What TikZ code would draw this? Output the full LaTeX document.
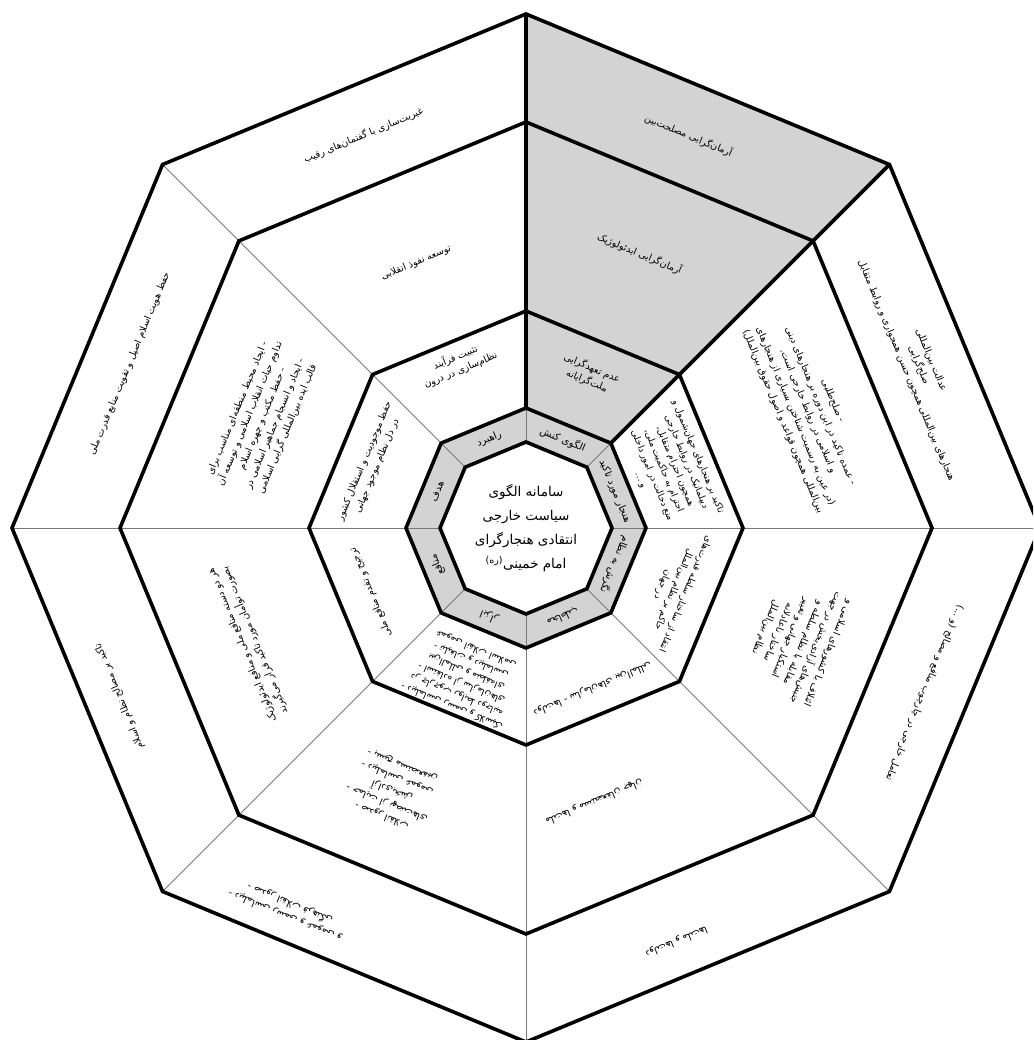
\documentclass[tikz,border=0pt]{standalone}
\usepackage{fontspec}
\newfontfamily\arabicfont[Script=Arabic]{DejaVu Sans}
\TeXXeTstate=1
\newcommand{\fa}[1]{\beginR #1\endR}
\definecolor{ringgray}{RGB}{211,211,211}
\definecolor{spokegray}{RGB}{120,120,120}

\begin{document}
\begin{tikzpicture}[x=1pt, y=1pt,
    ringline/.style={line width=3.6pt, line join=miter},
    spoke/.style={draw=spokegray, line width=0.9pt},
    celltext/.style={font=\arabicfont\fontsize{9.6}{13.5}\selectfont, align=center, inner sep=1pt},
    densetext/.style={celltext, font=\arabicfont\fontsize{9.2}{12.4}\selectfont},
    bandtext/.style={font=\arabicfont\fontsize{10}{12}\selectfont, inner sep=1pt},
    coretext/.style={font=\arabicfont\fontsize{13.5}{24}\selectfont, align=center}
  ]
  \useasboundingbox (-526,-512) rectangle (507,528);
  \clip (-526,-512) rectangle (507,528);

  % shaded band and highlighted sector
  \fill[ringgray, even odd rule]
    (0:120) \foreach \a in {45,90,...,315} {-- (\a:120)} -- cycle
    (0:86) \foreach \a in {45,90,...,315} {-- (\a:86)} -- cycle;
  \fill[ringgray] (45:86) -- (45:514) -- (90:514) -- (90:86) -- cycle;

  % spokes
  \foreach \a in {0,45,...,315}
    \draw[spoke] (\a:86) -- (\a:514);
  \draw[ringline] (90:120) -- (90:514) (45:120) -- (45:514);

  % rings
  \foreach \r in {514,406,217,120,86}
    \draw[ringline] (0:\r) \foreach \a in {45,90,...,315} {-- (\a:\r)} -- cycle;

  % core
  \node[coretext] (core) at (0,0)
    {\fa{سامانه الگوی}\\\fa{سیاست خارجی}\\\fa{انتقادی هنجارگرای}\\\fa{امام خمینی\textsuperscript{\fa{(ره)}}}};

  % band labels
  \node[bandtext, rotate=-67.5] (band22) at (22.5:96) {\fa{هنجار مورد تاکید}};
  \node[bandtext, rotate=-22.5] (band67) at (67.5:96) {\fa{الگوی کنش}};
  \node[bandtext, rotate=22.5] (band112) at (112.5:96) {\fa{راهبرد}};
  \node[bandtext, rotate=67.5] (band157) at (157.5:96) {\fa{هدف}};
  \node[bandtext, rotate=112.5] (band202) at (202.5:96) {\fa{منافع}};
  \node[bandtext, rotate=157.5] (band247) at (247.5:96) {\fa{ابزار}};
  \node[bandtext, rotate=202.5] (band292) at (292.5:96) {\fa{مخاطب}};
  \node[bandtext, rotate=247.5] (band337) at (337.5:96) {\fa{نگرش به نظام}};

  % inner ring
  \node[densetext, rotate=-67.5] (in22) at (22.5:155)
    {\fa{تاکید بر هنجارهای جهان‌شمول و}\\\fa{دیپلماتیک در روابط خارجی}\\\fa{همچون احترام متقابل،}\\\fa{احترام به حاکمیت ملی،}\\\fa{منع دخالت در امور داخلی}\\\fa{و ...}};
  \node[celltext, rotate=-22.5] (in67) at (67.5:166)
    {\fa{عدم تعهدگرایی}\\\fa{ملت‌گرایانه}};
  \node[celltext, rotate=22.5] (in112) at (112.5:178)
    {\fa{تثبیت فرآیند}\\\fa{نظام‌سازی در درون}};
  \node[celltext, rotate=67.5] (in157) at (157.5:168)
    {\fa{حفظ موجودیت و استقلال کشور}\\\fa{در دل نظام موجود جهانی}};
  \node[celltext, rotate=112.5] (in202) at (202.5:168)
    {\fa{ترجیح و تقدم منافع ملی}};
  \node[densetext, rotate=157.5] (in247) at (247.5:162)
    {\fa{- دیپلماسی رسمی و کلاسیک}\\\fa{در چارچوب روابط دوجانبه}\\\fa{- استفاده از سازمان‌های}\\\fa{بین‌المللی و منطقه‌ای}\\\fa{- تبلیغات و دیپلماسی}\\\fa{عمومی انقلاب اسلامی}};
  \node[celltext, rotate=202.5] (in292) at (292.5:174)
    {\fa{دولت‌ها - سازمان‌های بین‌المللی}};
  \node[densetext, rotate=247.5] (in337) at (337.5:160)
    {\fa{انتقاد از ساختار سلطه قدرت‌های}\\\fa{حاکم بر نظام بین‌الملل}\\\fa{در جهان}};

  % middle ring
  \node[celltext, rotate=-67.5] (mid22) at (22.5:305)
    {\fa{- صلح‌طلبی}\\\fa{- عمده تاکید در این دوره بر هنجارهای دینی}\\\fa{و اسلامی در روابط خارجی است.}\\\fa{(در عین به رسمیت شناختن بسیاری از هنجارهای}\\\fa{بین‌المللی همچون قواعد و اصول حقوق بین‌الملل)}};
  \node[celltext, rotate=-22.5] (mid67) at (67.5:297)
    {\fa{آرمان‌گرایی ایدئولوژیک}};
  \node[celltext, rotate=22.5] (mid112) at (112.5:287)
    {\fa{توسعه نفوذ انقلابی}};
  \node[celltext, rotate=67.5] (mid157) at (157.5:285)
    {\fa{- ایجاد محیط منطقه‌ای مناسب برای}\\\fa{تداوم حیات انقلاب اسلامی و توسعه آن}\\\fa{- حفظ مکتب و چهره اسلام}\\\fa{- ایجاد و انسجام جماهیر اسلامی در}\\\fa{قالب ایده بین‌المللی گرایی اسلامی}};
  \node[celltext, rotate=112.5] (mid202) at (202.5:300)
    {\fa{هر دو دسته منافع ملی و منافع ایدئولوژیک}\\\fa{بصورت توأمان مورد تاکید قرار می‌گیرند}};
  \node[celltext, rotate=157.5] (mid247) at (243:295)
    {\fa{- صدور انقلاب}\\\fa{- حمایت از نهضت‌های}\\\fa{آزادی‌بخش}\\\fa{- دیپلماسی عمومی}\\\fa{- بسیج مستضعفین}};
  \node[celltext, rotate=202.5] (mid292) at (284:282)
    {\fa{ملت‌ها و مستضعفان جهان}};
  \node[celltext, rotate=247.5] (mid337) at (337.5:293)
    {\fa{ائتلاف با کشورهای اسلامی و}\\\fa{جنبش‌های آزادی‌بخش در جهت}\\\fa{مقابله با نظام سلطه و}\\\fa{استکبار جهانی و تغییر}\\\fa{ساختار ناعادلانه}\\\fa{نظام بین‌الملل}};

  % outer ring
  \node[celltext, rotate=-67.5] (out22) at (22.5:425)
    {\fa{عدالت بین‌المللی}\\\fa{صلح‌گرایی}\\\fa{هنجارهای بین‌المللی همچون حسن همجواری و روابط متقابل}};
  \node[celltext, rotate=-22.5] (out67) at (67.5:425)
    {\fa{آرمان‌گرایی مصلحت‌بین}};
  \node[celltext, rotate=22.5] (out112) at (112.5:425)
    {\fa{غیریت‌سازی با گفتمان‌های رقیب}};
  \node[celltext, rotate=67.5] (out157) at (157.5:429)
    {\fa{حفظ هویت اسلام اصیل و تقویت منابع قدرت ملی}};
  \node[celltext, rotate=112.5] (out202) at (202.5:440)
    {\fa{تاکید بر مصالح نظام و اسلام}};
  \node[celltext, rotate=157.5] (out247) at (238:450)
    {\fa{- دیپلماسی رسمی و عمومی و}\\\fa{- صدور انقلاب فرهنگی}};
  \node[celltext, rotate=202.5] (out292) at (290:440)
    {\fa{دولت‌ها و ملت‌ها}};
  \node[celltext, rotate=247.5] (out337) at (337.5:431)
    {\fa{تعامل خارجی در چارچوب منافع و مصالح (و ...)}};
\end{tikzpicture}
\end{document}
